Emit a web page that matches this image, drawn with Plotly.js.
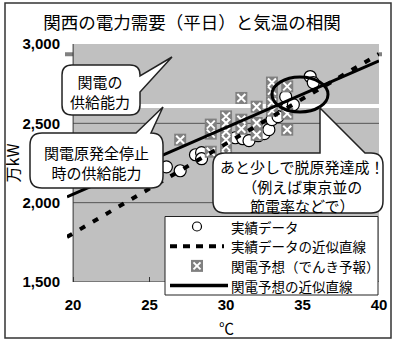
<!DOCTYPE html>
<html><head><meta charset="utf-8">
<script src="https://cdn.plot.ly/plotly-3.0.1.min.js"></script>
<style>html,body{margin:0;padding:0;background:#fff;}#chart{width:400px;height:346px;}</style>
</head><body><div id="chart"></div>
<script>
// ---- data ----
const actualTemp   = [26.1, 27.0, 28.0, 28.4, 28.4, 30.6, 31.1, 31.5, 32.1, 32.5, 32.8, 33.0, 33.4, 33.9, 34.0, 34.4, 35.5, 35.7];
const actualDemand = [2226, 2201, 2302, 2315, 2277, 2409, 2403, 2391, 2422, 2435, 2460, 2523, 2542, 2668, 2599, 2618, 2795, 2757];
const forecastTemp   = [27, 29, 29, 29, 30, 30, 30, 30, 30, 30, 31, 31, 31, 32, 32, 32, 33, 33, 33, 33, 34, 34, 34];
const forecastDemand = [2397, 2492, 2435, 2321, 2544, 2502, 2449, 2397, 2353, 2302, 2660, 2523, 2466, 2605, 2502, 2428, 2757, 2706, 2631, 2580, 2733, 2561, 2460];
const trendTemp     = [19.6, 40];
const actualTrend   = [1784, 2937];
const forecastTrend = [2037, 2893];
const supplyCapacity  = 2935;
const supplyNoNuclear = 2610;
const xTicks = [20, 25, 30, 35, 40];
const yTicks = [1500, 2000, 2500, 3000];
const seriesNames = ['実績データ', '実績データの近似直線', '関電予想（でんき予報）', '関電予想の近似直線'];
const titleText = '関西の電力需要（平日）と気温の相関';

// ---- layout helpers (pixel -> paper) ----
const L = 67, T = 44, W = 312, H = 238;
const px = x => (x - L) / W;
const py = y => (T + H - y) / H;
const P = (x, y) => px(x).toFixed(4) + ',' + py(y).toFixed(4);
const JP = '"Noto Sans CJK JP", "Noto Sans", sans-serif';
const NUM = '"Liberation Sans", Arial, sans-serif';

function bubble(x0, y0, x1, y1, r, tail) {
  let p = 'M' + P(x0 + r, y0);
  if (tail.side === 'top') p += ' L' + P(tail.a, y0) + ' L' + P(tail.tx, tail.ty) + ' L' + P(tail.b, y0);
  p += ' L' + P(x1 - r, y0) + ' Q' + P(x1, y0) + ' ' + P(x1, y0 + r);
  if (tail.side === 'right') p += ' L' + P(x1, tail.a) + ' L' + P(tail.tx, tail.ty) + ' L' + P(x1, tail.b);
  p += ' L' + P(x1, y1 - r) + ' Q' + P(x1, y1) + ' ' + P(x1 - r, y1);
  p += ' L' + P(x0 + r, y1) + ' Q' + P(x0, y1) + ' ' + P(x0, y1 - r);
  p += ' L' + P(x0, y0 + r) + ' Q' + P(x0, y0) + ' ' + P(x0 + r, y0) + ' Z';
  return {type: 'path', xref: 'paper', yref: 'paper', path: p, fillcolor: '#ffffff',
          line: {color: '#222', width: 1.5}, layer: 'above'};
}
function paperLine(x0, y0, x1, y1, color, width, dash) {
  return {type: 'line', xref: 'paper', yref: 'paper', x0: px(x0), y0: py(y0), x1: px(x1), y1: py(y1),
          line: {color: color, width: width, dash: dash || 'solid'}, layer: 'above'};
}
function note(text, x, y, opts) {
  return Object.assign({xref: 'paper', yref: 'paper', x: px(x), y: py(y), text: text, showarrow: false,
          xanchor: 'center', yanchor: 'middle', align: 'center', borderpad: 0,
          font: {family: JP, size: 15, color: '#000'}}, opts || {});
}

// legend rows (pixel centres)
const r1 = 226.5, r2 = 246.2, r3 = 265.9, r4 = 285.6;

const traces = [
  {type: 'scatter', mode: 'markers', name: seriesNames[0], x: actualTemp, y: actualDemand,
   marker: {symbol: 'circle', size: 12, color: '#ffffff', line: {color: '#000', width: 1.2}}},
  {type: 'scatter', mode: 'markers', name: seriesNames[2], x: forecastTemp, y: forecastDemand,
   marker: {symbol: 'square', size: 12, color: '#808080', line: {width: 0}}},
  {type: 'scatter', mode: 'markers', name: seriesNames[2] + ' X', x: forecastTemp, y: forecastDemand,
   marker: {symbol: 'x-thin-open', size: 8, color: '#ffffff', line: {color: '#ffffff', width: 2}}, hoverinfo: 'skip'},
  {type: 'scatter', mode: 'lines', name: seriesNames[1], x: trendTemp, y: actualTrend,
   line: {color: '#000', width: 4, dash: '6px,9px'}},
  {type: 'scatter', mode: 'lines', name: seriesNames[3], x: trendTemp, y: forecastTrend,
   line: {color: '#000', width: 3}}
];

const shapes = [
  // plot background
  {type: 'rect', xref: 'x', yref: 'y', x0: xTicks[0], x1: xTicks[xTicks.length - 1], y0: yTicks[0], y1: yTicks[yTicks.length - 1],
   fillcolor: '#c0c0c0', line: {width: 0}, layer: 'below'},
];
yTicks.slice(1, -1).forEach(v => shapes.push({type: 'line', xref: 'x', yref: 'y', x0: xTicks[0], x1: xTicks[xTicks.length - 1], y0: v, y1: v,
  line: {color: '#555', width: 1}, layer: 'below'}));
shapes.push(
  {type: 'line', xref: 'x', yref: 'y', x0: xTicks[0], x1: xTicks[0], y0: yTicks[0], y1: yTicks[yTicks.length - 1], line: {color: '#333', width: 1}, layer: 'below'},
  {type: 'line', xref: 'x', yref: 'y', x0: xTicks[0], x1: xTicks[xTicks.length - 1], y0: yTicks[0], y1: yTicks[0], line: {color: '#333', width: 1}, layer: 'below'},
  // supply capacity lines
  {type: 'line', xref: 'paper', yref: 'y', x0: px(65), x1: px(382), y0: supplyCapacity, y1: supplyCapacity, line: {color: '#808080', width: 4}, layer: 'below'},
  {type: 'line', xref: 'x', yref: 'y', x0: xTicks[0], x1: xTicks[xTicks.length - 1], y0: supplyNoNuclear, y1: supplyNoNuclear, line: {color: '#ffffff', width: 4}, layer: 'below'},
  // ellipse highlight
  {type: 'circle', xref: 'paper', yref: 'paper', x0: px(272), x1: px(328), y0: py(112), y1: py(77), line: {color: '#000', width: 3}, layer: 'above'},
  // callouts
  bubble(62, 65, 140, 115, 10, {side: 'right', a: 76, b: 92, tx: 172, ty: 57}),
  bubble(30, 133, 163, 188, 12, {side: 'top', a: 136, b: 151, tx: 163, ty: 107}),
  bubble(213, 153, 383, 213, 12, {side: 'top', a: 320, b: 365, tx: 320, ty: 108}),
  // legend box
  {type: 'rect', xref: 'paper', yref: 'paper', x0: px(165), x1: px(378), y0: py(295), y1: py(216.5), fillcolor: '#fff', line: {color: '#222', width: 1}, layer: 'above'},
  {type: 'circle', xref: 'paper', yref: 'paper', x0: px(192.5), x1: px(201.5), y0: py(r1 + 4.5), y1: py(r1 - 4.5), fillcolor: '#fff', line: {color: '#000', width: 1.2}, layer: 'above'},
  paperLine(170, r2, 224, r2, '#000', 4, '7px,6px'),
  {type: 'rect', xref: 'paper', yref: 'paper', x0: px(191), x1: px(203), y0: py(r3 + 6), y1: py(r3 - 6), fillcolor: '#808080', line: {width: 0}, layer: 'above'},
  paperLine(193.5, r3 - 3.5, 200.5, r3 + 3.5, '#fff', 2),
  paperLine(193.5, r3 + 3.5, 200.5, r3 - 3.5, '#fff', 2),
  paperLine(170, r4, 228, r4, '#000', 3.5),
  // outer frame
  {type: 'rect', xref: 'paper', yref: 'paper', x0: px(5), x1: px(391), y0: py(338), y1: py(3), line: {color: '#333', width: 1.5}, layer: 'above'}
);

const legFont = {family: JP, size: 13.5, color: '#000'};
const annotations = [
  note('関電の<br>供給能力', 100, 92),
  note('関電原発全停止<br>時の供給能力', 96, 162),
  note('あと少しで脱原発達成！<br>（例えば東京並の<br>節電率などで）', 302, 186),
  note(seriesNames[0], 230, r1, {xanchor: 'left', font: legFont}),
  note(seriesNames[1], 230, r2, {xanchor: 'left', font: legFont}),
  note(seriesNames[2], 230, r3, {xanchor: 'left', font: legFont}),
  note(seriesNames[3], 230, r4, {xanchor: 'left', font: legFont}),
  {xref: 'x', yref: 'paper', x: 30, y: py(327), text: '℃', showarrow: false, xanchor: 'center', yanchor: 'middle', borderpad: 0,
   font: {family: JP, size: 15, color: '#000'}}
];

const layout = {
  width: 400, height: 346,
  margin: {l: L, r: 400 - L - W, t: T, b: 346 - T - H, pad: 0},
  paper_bgcolor: '#ffffff', plot_bgcolor: 'rgba(0,0,0,0)',
  showlegend: false,
  title: {text: titleText, font: {family: JP, size: 17.5, color: '#000'},
          x: 192 / 400, xref: 'container', xanchor: 'center', y: 1 - 23 / 346, yref: 'container', yanchor: 'middle'},
  xaxis: {range: [trendTemp[0], xTicks[xTicks.length - 1]], tickvals: xTicks, ticks: 'inside', ticklen: 5, tickcolor: '#333', tickwidth: 1,
          showgrid: false, zeroline: false, showline: false, fixedrange: true, ticklabelstandoff: 12,
          tickfont: {family: NUM, size: 15, color: '#000', weight: 'bold'}},
  yaxis: {range: [yTicks[0], yTicks[yTicks.length - 1]], tickvals: yTicks, tickformat: ',d', ticks: '',
          showgrid: false, zeroline: false, showline: false, fixedrange: true, ticklabelstandoff: 6,
          tickfont: {family: NUM, size: 15, color: '#000', weight: 'bold'},
          title: {text: '万kW', font: {family: JP, size: 16, color: '#000'}, standoff: 2}},
  shapes: shapes,
  annotations: annotations
};

Plotly.newPlot('chart', traces, layout, {staticPlot: true, displayModeBar: false});
</script>
</body></html>
